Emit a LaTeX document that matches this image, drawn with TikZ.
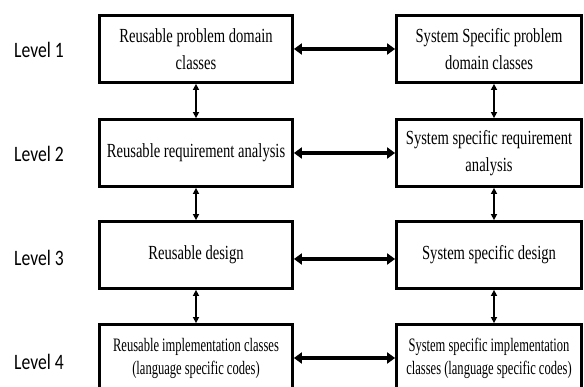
\documentclass[tikz,border=0pt]{standalone}
\usepackage{fontspec}
\newfontfamily\boxfont[FakeStretch=0.73]{Liberation Serif}
\newfontfamily\boxfontn[FakeStretch=0.66]{Liberation Serif}
\newfontfamily\lvlfont[FakeStretch=0.8]{Carlito}
\usetikzlibrary{arrows.meta}
\begin{document}
\begin{tikzpicture}[x=1pt,y=-1pt,
  box/.style={draw, line width=2.8pt, align=center, inner sep=0pt,
    minimum height=67pt, font=\boxfont\fontsize{20}{27}\selectfont},
  lbox/.style={box, minimum width=193pt},
  rbox/.style={box, minimum width=185pt},
  nbox/.style={font=\boxfontn\fontsize{19}{23}\selectfont},
  lvl/.style={anchor=base west, inner sep=0pt, font=\lvlfont\fontsize{22}{24}\selectfont},
  harr/.style={line width=3.4pt, {Triangle[length=8pt,width=11pt]}-{Triangle[length=8pt,width=11pt]}},
  varr/.style={line width=1.5pt, {Triangle[length=6pt,width=6pt]}-{Triangle[length=6pt,width=6pt]}}
]
\useasboundingbox (0,0) rectangle (584,387);
\clip (0,0) rectangle (584,387);

\node[lvl] (v1) at (14,58) {Level 1};
\node[lvl] (v2) at (14,162) {Level 2};
\node[lvl] (v3) at (14,266) {Level 3};
\node[lvl] (v4) at (14,370) {Level 4};

\node[lbox] (l1) at (196,49) {Reusable problem domain\\classes};
\node[lbox] (l2) at (196,153) {Reusable requirement analysis};
\node[lbox] (l3) at (196,255) {Reusable design};
\node[lbox,nbox] (l4) at (196,358) {Reusable implementation classes\\(language specific codes)};

\node[rbox] (r1) at (489,49) {System Specific problem\\domain classes};
\node[rbox] (r2) at (489,153) {System specific requirement\\analysis};
\node[rbox] (r3) at (489,255) {System specific design};
\node[rbox,nbox] (r4) at (489,358) {System specific implementation\\classes (language specific codes)};

\draw[harr] (l1.east) -- (r1.west);
\draw[harr] (l2.east) -- (r2.west);
\draw[harr] ([yshift=-4pt]l3.east) -- ([yshift=-4pt]r3.west);
\draw[harr] (l4.east) -- (r4.west);

\draw[varr] (l1.south) -- (l2.north);
\draw[varr] (l2.south) -- (l3.north);
\draw[varr] (l3.south) -- (l4.north);
\draw[varr] ([xshift=5pt]r1.south) -- ([xshift=5pt]r2.north);
\draw[varr] ([xshift=5pt]r2.south) -- ([xshift=5pt]r3.north);
\draw[varr] ([xshift=5pt]r3.south) -- ([xshift=5pt]r4.north);
\end{tikzpicture}
\end{document}
